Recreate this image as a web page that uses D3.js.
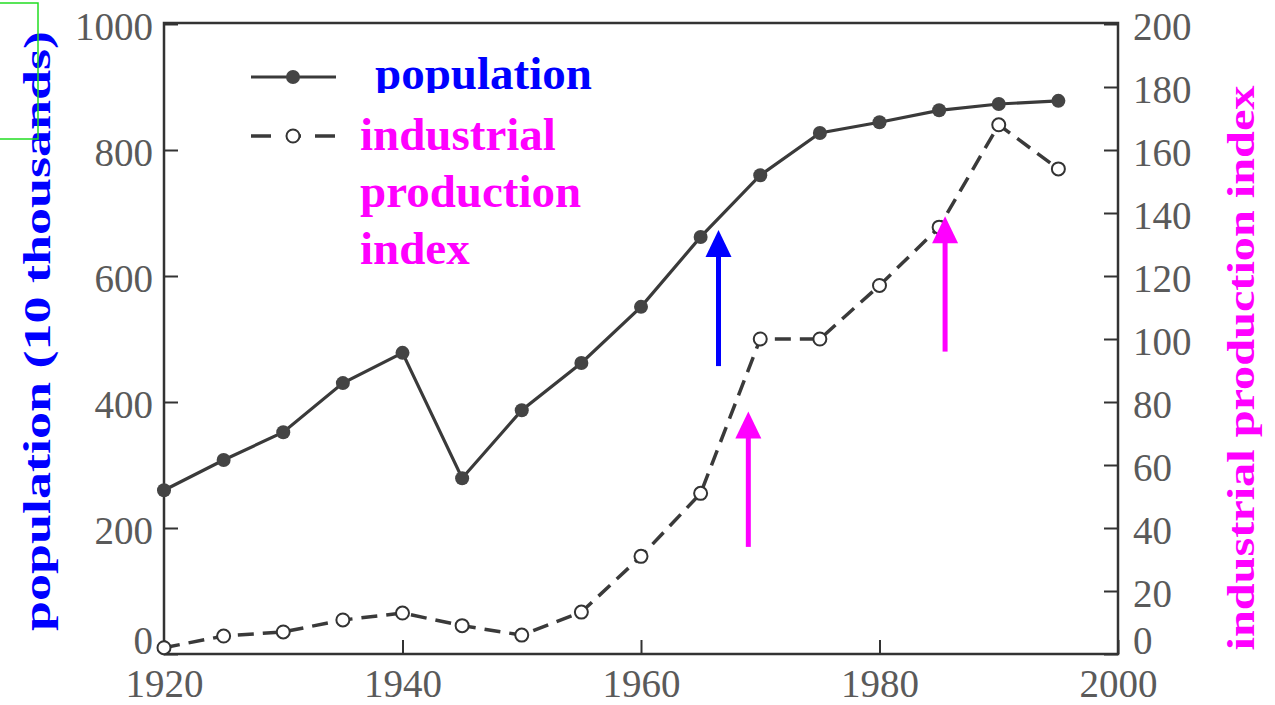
<!DOCTYPE html>
<html>
<head>
<meta charset="utf-8">
<script src="https://cdnjs.cloudflare.com/ajax/libs/d3/7.8.5/d3.min.js"></script>
<style>
  body { margin: 0; background: #fff; }
  .tick text { font-family: "Liberation Serif", "Times New Roman", serif; font-size: 39px; fill: #5a5a5a; }
  .tick line { stroke: #333; stroke-width: 2; }
  .domain { display: none; }
  .lbl { font-family: "Liberation Serif", "Times New Roman", serif; font-weight: bold; }
</style>
</head>
<body>
<div class="chart"></div>
<script>
// data
var years = [1920, 1925, 1930, 1935, 1940, 1945, 1950, 1955, 1960, 1965, 1970, 1975, 1980, 1985, 1990, 1995];
var population = [260, 308, 352, 430, 478, 279, 387, 462, 551, 662, 760, 827, 844, 863, 873, 878];
var industry = [2, 5.7, 7, 10.8, 13, 9, 6, 13.3, 31, 51, 100, 100, 117, 135.5, 168, 154];
var xTicks = [1920, 1940, 1960, 1980, 2000];
var leftTicks = [0, 200, 400, 600, 800, 1000];
var rightTicks = [0, 20, 40, 60, 80, 100, 120, 140, 160, 180, 200];
// annotation arrows: year, from value, to value, which axis
var arrows = [
  {year: 1966.5, from: 457, to: 673, axis: 'left', color: '#0000ff'},
  {year: 1969, from: 34, to: 77, axis: 'right', color: '#ff00ff'},
  {year: 1985.5, from: 96, to: 139, axis: 'right', color: '#ff00ff'}
];

var width = 1275, height = 705;
var plot = {left: 164, right: 1118, top: 24, bottom: 654};

var x = d3.scaleLinear().domain([1920, 2000]).range([plot.left, plot.right]);
var yL = d3.scaleLinear().domain([0, 1000]).range([plot.bottom, plot.top]);
var yR = d3.scaleLinear().domain([0, 200]).range([plot.bottom, plot.top]);

var svg = d3.select('.chart').append('svg')
  .attr('width', width)
  .attr('height', height);

var defs = svg.append('defs');
defs.append('clipPath').attr('id', 'clipLegend')
  .append('rect').attr('x', 0).attr('y', 0).attr('width', width).attr('height', 93);

// axes; the zero labels sit a little above their tick, as in the original
svg.append('g')
  .attr('transform', `translate(${plot.left},0)`)
  .call(d3.axisLeft(yL).tickValues(leftTicks).tickFormat(d3.format('d')).tickSizeInner(-14).tickSizeOuter(0).tickPadding(11))
  .selectAll('text').attr('dy', d => d === 0 ? '-0.02em' : '0.4em');

svg.append('g')
  .attr('transform', `translate(${plot.right},0)`)
  .call(d3.axisRight(yR).tickValues(rightTicks).tickSizeInner(-14).tickSizeOuter(0).tickPadding(15))
  .selectAll('text').attr('dy', d => d === 0 ? '-0.02em' : '0.4em');

svg.append('g')
  .attr('transform', `translate(0,${plot.bottom})`)
  .call(d3.axisBottom(x).tickValues(xTicks).tickFormat(d3.format('d')).tickSizeInner(-14).tickSizeOuter(0).tickPadding(15));

// frame
svg.append('rect')
  .attr('x', plot.left).attr('y', plot.top - 1)
  .attr('width', plot.right - plot.left)
  .attr('height', plot.bottom - plot.top + 1)
  .style('fill', 'none')
  .style('stroke', '#333')
  .style('stroke-width', 2.5);

var rows = years.map((d, i) => ({year: d, pop: population[i], ind: industry[i]}));

var popLine = d3.line().x(d => x(d.year)).y(d => yL(d.pop));
var indLine = d3.line().x(d => x(d.year)).y(d => yR(d.ind));

svg.append('path')
  .attr('d', popLine(rows))
  .style('fill', 'none')
  .style('stroke', '#3a3a3a')
  .style('stroke-width', 3.2);

svg.append('path')
  .attr('d', indLine(rows))
  .style('fill', 'none')
  .style('stroke', '#3a3a3a')
  .style('stroke-width', 3.5)
  .style('stroke-dasharray', '16,9');

svg.selectAll('.pop-dot')
  .data(rows)
  .enter().append('circle')
    .attr('class', 'pop-dot')
    .attr('cx', d => x(d.year))
    .attr('cy', d => yL(d.pop))
    .attr('r', 7)
    .style('fill', '#444');

svg.selectAll('.ind-dot')
  .data(rows)
  .enter().append('circle')
    .attr('class', 'ind-dot')
    .attr('cx', d => x(d.year))
    .attr('cy', d => yR(d.ind))
    .attr('r', 6.5)
    .style('fill', '#fff')
    .style('stroke', '#333')
    .style('stroke-width', 2);

// legend
var legend = svg.append('g');
legend.append('line')
  .attr('x1', 251).attr('x2', 336).attr('y1', 77).attr('y2', 77)
  .style('stroke', '#3a3a3a').style('stroke-width', 3.2);
legend.append('circle')
  .attr('cx', 293).attr('cy', 77).attr('r', 7).style('fill', '#444');
legend.append('line')
  .attr('x1', 251).attr('x2', 336).attr('y1', 136).attr('y2', 136)
  .style('stroke', '#3a3a3a').style('stroke-width', 3.5)
  .style('stroke-dasharray', '20,18,12,14,20');
legend.append('circle')
  .attr('cx', 293).attr('cy', 136).attr('r', 6.5)
  .style('fill', '#fff').style('stroke', '#333').style('stroke-width', 2);

legend.append('text')
  .attr('class', 'lbl')
  .attr('clip-path', 'url(#clipLegend)')
  .attr('x', 375).attr('y', 89)
  .style('font-size', '47px')
  .style('fill', '#0000ff')
  .text('population');

legend.selectAll('.ind-lbl')
  .data(['industrial', 'production', 'index'])
  .enter().append('text')
    .attr('class', 'lbl ind-lbl')
    .attr('x', 360)
    .attr('y', (d, i) => 150 + i * 57)
    .style('font-size', '47px')
    .style('fill', '#ff00ff')
    .text(d => d);

// axis titles
svg.append('text')
  .attr('class', 'lbl')
  .attr('transform', 'translate(50,331) rotate(-90)')
  .attr('text-anchor', 'middle')
  .attr('textLength', 600)
  .attr('lengthAdjust', 'spacingAndGlyphs')
  .style('font-size', '37px')
  .style('fill', '#0000ff')
  .text('population (10 thousands)');

svg.append('text')
  .attr('class', 'lbl')
  .attr('transform', 'translate(1254,368) rotate(-90)')
  .attr('text-anchor', 'middle')
  .attr('textLength', 565)
  .attr('lengthAdjust', 'spacingAndGlyphs')
  .style('font-size', '38px')
  .style('fill', '#ff00ff')
  .text('industrial production index');

// annotation arrows
arrows.forEach(function(a) {
  var sc = a.axis === 'left' ? yL : yR;
  var ax = x(a.year), tip = sc(a.to), base = sc(a.from);
  svg.append('line')
    .attr('x1', ax).attr('x2', ax)
    .attr('y1', base).attr('y2', tip + 20)
    .style('stroke', a.color)
    .style('stroke-width', 5);
  svg.append('path')
    .attr('d', `M${ax},${tip}L${ax - 13},${tip + 27}L${ax + 13},${tip + 27}Z`)
    .style('fill', a.color);
});

// stray green box at top left of the original
svg.append('rect')
  .attr('x', -2).attr('y', 3)
  .attr('width', 40).attr('height', 136)
  .style('fill', 'none')
  .style('stroke', '#22dd22')
  .style('stroke-width', 1.5);
</script>
</body>
</html>
